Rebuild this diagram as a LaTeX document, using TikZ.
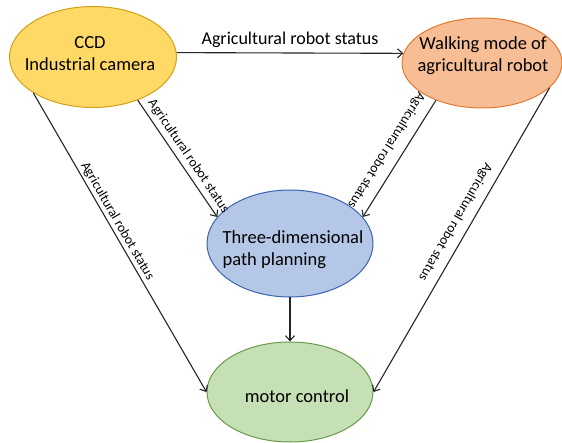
\documentclass[tikz,border=0pt]{standalone}
\usepackage{fontspec}
\setmainfont{Carlito}
\usetikzlibrary{arrows.meta,shapes.geometric}

\definecolor{ccdfill}{HTML}{FFD966}
\definecolor{ccdline}{HTML}{D4A017}
\definecolor{walkfill}{HTML}{F7BE96}
\definecolor{walkline}{HTML}{E07A30}
\definecolor{planfill}{HTML}{B4C7E7}
\definecolor{planline}{HTML}{3A64B0}
\definecolor{motorfill}{HTML}{C5E0B4}
\definecolor{motorline}{HTML}{6A9A4A}

\begin{document}
\begin{tikzpicture}[x=1pt,y=-1pt,
  blob/.style={ellipse, line width=1pt, inner sep=0pt},
  inside/.style={font=\fontsize{18.5}{22}\selectfont, align=center, inner sep=0pt},
  flow/.style={draw=black!85, line width=1.1pt,
               -{Straight Barb[length=5pt,width=9pt]}},
  status/.style={font=\fontsize{13.6}{16}\selectfont, inner sep=1pt},
  toplabel/.style={font=\fontsize{18}{20}\selectfont, inner sep=1pt}]
\useasboundingbox (0,0) rectangle (562,443);

% module ellipses
\node[blob, fill=ccdfill, draw=ccdline,
      minimum width=167pt, minimum height=101pt] (ccd) at (93,57) {};
\node[blob, fill=walkfill, draw=walkline,
      minimum width=160pt, minimum height=90pt] (walk) at (482,63) {};
\node[blob, fill=planfill, draw=planline,
      minimum width=166pt, minimum height=107pt] (plan) at (290,243.5) {};
\node[blob, fill=motorfill, draw=motorline,
      minimum width=166pt, minimum height=100pt] (motor) at (290,392) {};

% module names
\node[inside] (ccdtext) at ([shift={(-3pt,3pt)}]ccd.center) {CCD\\Industrial camera};
\node[inside] (walktext) at ([shift={(1pt,7pt)}]walk.center) {Walking mode of\\agricultural robot};
\node[inside, align=left] (plantext) at ([shift={(3pt,-6.5pt)}]plan.center) {Three-dimensional\\path planning};
\node[inside] (motortext) at ([shift={(7pt,-4pt)}]motor.center) {motor control};

% status flows
\draw[flow] (ccd.3) -- node[toplabel, above=4pt] {Agricultural robot status} (walk.173);
\draw[flow] (ccd.-44) -- node[status, sloped, pos=0.53, above=3pt] {Agricultural robot status} (plan.160);
\draw[flow] (ccd.211) -- node[status, sloped, pos=0.443, above=1pt] {Agricultural robot status} (motor.west);
\draw[flow] (walk.219) -- node[status, sloped, allow upside down, pos=0.5, below=8pt] {Agricultural robot status} (plan.20);
\draw[flow] (walk.-20) -- node[status, sloped, allow upside down, pos=0.465, below=7pt] {Agricultural robot status} (motor.east);
\draw[flow] (plan.south) -- (motor.north);
\end{tikzpicture}
\end{document}
